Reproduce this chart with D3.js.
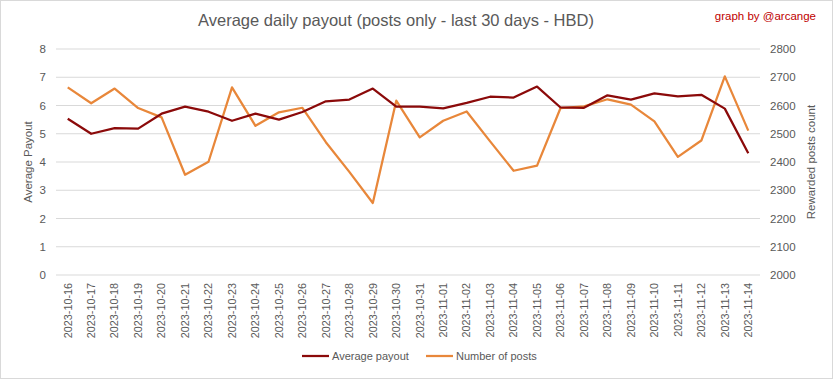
<!DOCTYPE html>
<html><head><meta charset="utf-8">
<script src="https://cdn.jsdelivr.net/npm/d3@7"></script>
<style>body{margin:0;background:#fff}svg{display:block}</style>
</head><body>
<script>
const dates = ["2023-10-16","2023-10-17","2023-10-18","2023-10-19","2023-10-20","2023-10-21","2023-10-22","2023-10-23","2023-10-24","2023-10-25","2023-10-26","2023-10-27","2023-10-28","2023-10-29","2023-10-30","2023-10-31","2023-11-01","2023-11-02","2023-11-03","2023-11-04","2023-11-05","2023-11-06","2023-11-07","2023-11-08","2023-11-09","2023-11-10","2023-11-11","2023-11-12","2023-11-13","2023-11-14"];
const avgPayout = [5.53,5.00,5.20,5.18,5.71,5.96,5.78,5.46,5.71,5.50,5.77,6.15,6.21,6.60,5.96,5.96,5.90,6.09,6.31,6.28,6.67,5.93,5.92,6.36,6.21,6.43,6.32,6.38,5.89,4.31];
const numPosts = [2664,2608,2660,2591,2558,2355,2401,2664,2528,2576,2592,2470,2365,2255,2617,2487,2546,2579,2473,2369,2387,2591,2597,2622,2603,2544,2418,2476,2703,2511];
const leftTicks = [0,1,2,3,4,5,6,7,8];
const rightTicks = [2000,2100,2200,2300,2400,2500,2600,2700,2800];

const W=833,H=379;
const m={l:56,r:73,t:49,b:104};
const font="'Liberation Sans',sans-serif";
const grey="#595959";
const svg=d3.select("body").append("svg").attr("width",W).attr("height",H);
svg.append("rect").attr("x",0.5).attr("y",0.5).attr("width",W-1).attr("height",H-1).attr("fill","#fff").attr("stroke","#d9d9d9");

const x=d3.scaleBand().domain(dates).range([m.l,W-m.r]);
const yL=d3.scaleLinear().domain([0,8]).range([H-m.b,m.t]);
const yR=d3.scaleLinear().domain([2000,2800]).range([H-m.b,m.t]);

svg.append("g").selectAll("line").data(leftTicks).join("line")
 .attr("x1",m.l).attr("x2",W-m.r).attr("y1",d=>yL(d)).attr("y2",d=>yL(d))
 .attr("stroke","#d9d9d9").attr("stroke-width",1);

const gl=svg.append("g").attr("transform",`translate(${m.l-10},0)`)
 .call(d3.axisLeft(yL).tickValues(leftTicks).tickSize(0).tickPadding(0).tickFormat(d3.format("d")));
gl.select(".domain").remove();
gl.selectAll("text").attr("font-family",font).attr("font-size",11.5).attr("fill",grey).attr("dy","0.32em");

const gr=svg.append("g").attr("transform",`translate(${W-m.r+10},0)`)
 .call(d3.axisRight(yR).tickValues(rightTicks).tickSize(0).tickPadding(0).tickFormat(d3.format("d")));
gr.select(".domain").remove();
gr.selectAll("text").attr("font-family",font).attr("font-size",11.5).attr("fill",grey).attr("dy","0.32em");

const gx=svg.append("g").attr("transform",`translate(0,${H-m.b})`)
 .call(d3.axisBottom(x).tickSize(0).tickPadding(0));
gx.select(".domain").remove();
gx.selectAll("text").attr("font-family",font).attr("font-size",10.8).attr("fill",grey)
 .attr("text-anchor","end").attr("transform","translate(0,8) rotate(-90)").attr("dx",0).attr("dy","0.35em").attr("x",0).attr("y",0);

const cx=d=>x(d)+x.bandwidth()/2;
svg.append("path").datum(numPosts).attr("fill","none").attr("stroke","#e8873a").attr("stroke-width",2.25).attr("stroke-linejoin","round")
 .attr("d",d3.line().x((d,i)=>cx(dates[i])).y(d=>yR(d)));
svg.append("path").datum(avgPayout).attr("fill","none").attr("stroke","#8b0a0a").attr("stroke-width",2.25).attr("stroke-linejoin","round")
 .attr("d",d3.line().x((d,i)=>cx(dates[i])).y(d=>yL(d)));

svg.append("text").attr("x",396).attr("y",26).attr("text-anchor","middle").attr("font-family",font).attr("font-size",16.5).attr("fill",grey)
 .text("Average daily payout (posts only - last 30 days - HBD)");
svg.append("text").attr("x",816).attr("y",20).attr("text-anchor","end").attr("font-family",font).attr("font-size",11.5).attr("fill","#c00000")
 .text("graph by @arcange");

svg.append("text").attr("transform",`translate(32,${(m.t+H-m.b)/2}) rotate(-90)`).attr("text-anchor","middle")
 .attr("font-family",font).attr("font-size",11.5).attr("fill",grey).text("Average Payout");
svg.append("text").attr("transform",`translate(815,${(m.t+H-m.b)/2}) rotate(-90)`).attr("text-anchor","middle")
 .attr("font-family",font).attr("font-size",11.5).attr("fill",grey).text("Rewarded posts count");

const leg=[{n:"Average payout",c:"#8b0a0a",x:302},{n:"Number of posts",c:"#e8873a",x:426}];
const lg=svg.append("g");
leg.forEach(l=>{
 lg.append("line").attr("x1",l.x).attr("x2",l.x+27).attr("y1",356).attr("y2",356).attr("stroke",l.c).attr("stroke-width",2.25);
 lg.append("text").attr("x",l.x+30).attr("y",356).attr("dy","0.35em").attr("font-family",font).attr("font-size",11).attr("fill",grey).text(l.n);
});
</script>
</body></html>
